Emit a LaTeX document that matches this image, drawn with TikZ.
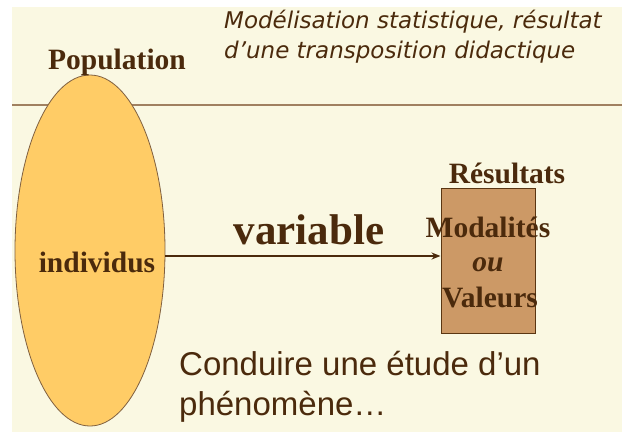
\documentclass[tikz,border=0pt]{standalone}
\usepackage{fontspec}
\setmainfont{Liberation Serif}
\setsansfont{Liberation Sans}
\newfontfamily\obliquefont{DejaVu Sans}
\usetikzlibrary{arrows.meta,calc,shapes.geometric}
\definecolor{cream}{HTML}{FAF8E2}
\definecolor{ink}{HTML}{4B2A0C}
\definecolor{rule}{HTML}{A08060}
\definecolor{ellfill}{HTML}{FFCC66}
\definecolor{ellline}{HTML}{806040}
\definecolor{boxfill}{HTML}{CC9966}
\definecolor{boxline}{HTML}{5A3612}
\begin{document}
\begin{tikzpicture}[x=1pt,y=-1pt,
  serifbold/.style={text=ink,inner sep=0pt,font=\fontsize{29.5}{32}\selectfont\bfseries},
  sanslabel/.style={text=ink,inner sep=0pt,align=left,anchor=north west,font=\sffamily\fontsize{33}{40}\selectfont},
  toplabel/.style={text=ink,inner sep=0pt,align=left,anchor=north west,font=\obliquefont\itshape\fontsize{23}{30}\selectfont}]
\useasboundingbox (0,0) rectangle (622,432);
\fill[white] (0,0) rectangle (622,432);
\fill[cream] (12,7) rectangle (622,432);
\draw[rule,line width=1.5pt] (12,105) -- (622,105);
\node[draw=ellline,fill=ellfill,ellipse,minimum width=150pt,minimum height=351pt,inner sep=0pt,line width=0.8pt] (ell) at (90,250.5) {};
\node[draw=boxline,fill=boxfill,line width=1pt,minimum width=94pt,minimum height=145pt,inner sep=0pt] (box) at (488,260.5) {};
\node[serifbold] (pop) at (117,62) {Population};
\node[toplabel] (top) at (224,10) {Modélisation statistique, résultat\\d’une transposition didactique};
\node[serifbold] (res) at (507,173) {Résultats};
\node[serifbold] (mod) at (488,227) {Modalités};
\node[serifbold,font=\fontsize{29.5}{32}\selectfont\bfseries\itshape] (ou) at (488,265) {ou};
\node[serifbold] (val) at (490,297) {Valeurs};
\node[serifbold,font=\fontsize{43}{46}\selectfont\bfseries] (var) at (309,230) {variable};
\node[serifbold] (ind) at (97,262) {individus};
\node[sanslabel] (cond) at (179,351) {Conduire une étude d’un\\phénomène…};
\draw[ink,line width=2pt,-{Stealth[length=9pt,width=7pt]}] ($(ell.east)+(0,5.5)$) -- ($(box.west)+(0,-4.5)$);
\end{tikzpicture}
\end{document}
